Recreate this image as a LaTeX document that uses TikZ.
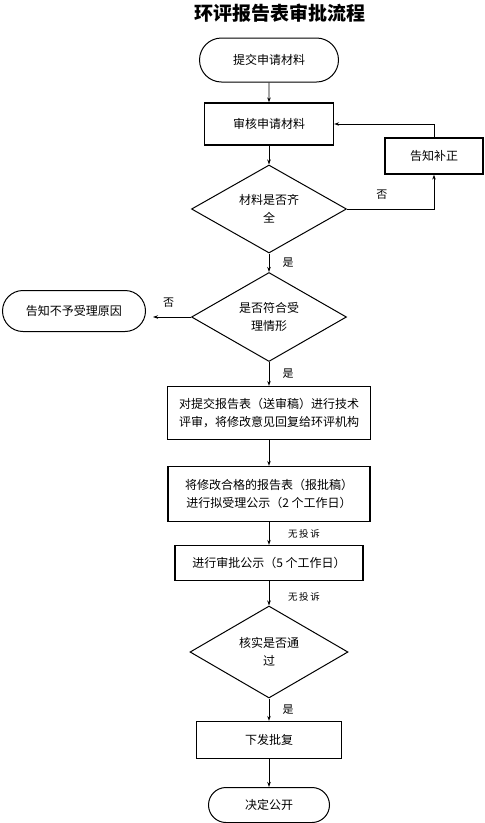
\documentclass[tikz,border=0pt]{standalone}
\usepackage{fontspec}
\newfontfamily\cjk{Noto Sans CJK SC}
\usetikzlibrary {positioning}
\usetikzlibrary {arrows.meta,shapes.geometric,shapes.misc}

\begin{document}
\begin{tikzpicture}[->,>={Stealth[length=5pt,width=3.5pt]},x=1pt,y=-1pt,on grid,line width=0.8pt,
font=\cjk\fontsize{12}{18}\selectfont,
terminal/.style={rounded rectangle,draw=black,line width=1pt,inner sep=0pt},
stepbox/.style={rectangle,draw=black,line width=1.3pt,inner sep=0pt,align=center},
decision/.style={diamond,aspect=1.75,draw=black,line width=1pt,inner sep=0pt,align=center},
lbl/.style={font=\cjk\fontsize{11}{13}\selectfont},
small/.style={font=\cjk\fontsize{9.5}{12}\selectfont}]
\useasboundingbox (0,0) rectangle (485,823);
\node[terminal,minimum width=139pt,minimum height=44pt] (start) at (269,60) {提交申请材料};
\node[font=\cjk\bfseries\fontsize{19}{22}\selectfont] (title) [above=47pt of start,xshift=11pt] {环评报告表审批流程};
\node[stepbox,minimum width=129pt,minimum height=42pt] (check) [below=64pt of start] {审核申请材料};
\node[decision,minimum width=155pt,minimum height=88pt] (full) [below=85pt of check] {材料是否齐\\全};
\node[stepbox,minimum width=98pt,minimum height=36pt] (fix) [below right=32pt and 165pt of check] {告知补正};
\node[decision,minimum width=155pt,minimum height=89pt] (accept) [below=108pt of full] {是否符合受\\理情形};
\node[terminal,minimum width=143pt,minimum height=41pt] (reject) [above left=6pt and 195pt of accept] {告知不予受理原因};
\node[stepbox,minimum width=203pt,minimum height=53pt] (review) [below=96pt of accept] {对提交报告表（送审稿）进行技术\\评审，将修改意见回复给环评机构};
\node[stepbox,minimum width=202pt,minimum height=55pt] (notice) [below=81pt of review] {将修改合格的报告表（报批稿）\\进行拟受理公示（2 个工作日）};
\node[stepbox,minimum width=188pt,minimum height=35pt] (publish) [below=69pt of notice] {进行审批公示（5 个工作日）};
\node[decision,minimum width=158pt,minimum height=92pt] (verify) [below=89pt of publish] {核实是否通\\过};
\node[stepbox,minimum width=145pt,minimum height=37pt] (issue) [below=88pt of verify] {下发批复};
\node[terminal,minimum width=121pt,minimum height=35pt] (open) [below=65pt of issue] {决定公开};

\draw (start) -- (check);
\draw (check) -- (full);
\draw (full.east) -| node[lbl,pos=0.2,yshift=14pt]{否} (fix);
\draw (fix.north) |- (check.east);
\draw (full) -- node[lbl,midway,xshift=19pt]{是} (accept);
\draw[shorten >=7pt] (accept.west) -- node[lbl,midway,yshift=14pt]{否} (accept.west -| reject.east);
\draw (accept) -- node[lbl,midway,xshift=19pt]{是} (review);
\draw (review) -- (notice);
\draw (notice) -- node[small,midway,xshift=35pt]{无\,投\,诉} (publish);
\draw (publish) -- node[small,midway,xshift=35pt,yshift=-4pt]{无\,投\,诉} (verify);
\draw (verify) -- node[lbl,midway,xshift=19pt]{是} (issue);
\draw (issue) -- (open);
\end{tikzpicture}
\end{document}
